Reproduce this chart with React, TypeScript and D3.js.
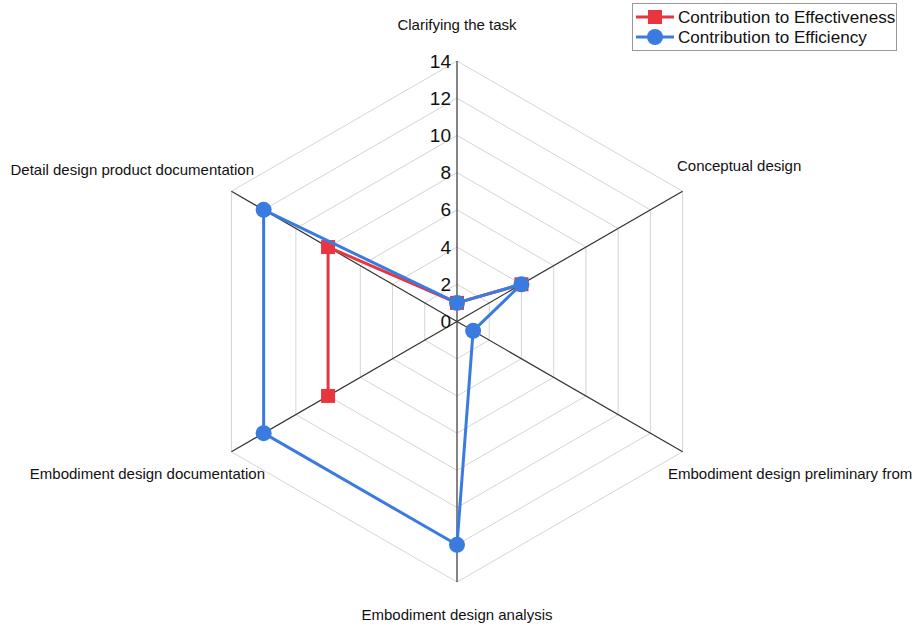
import React from "react";
import * as d3 from "d3";

const categories = [
  "Clarifying the task",
  "Conceptual design",
  "Embodiment design preliminary from",
  "Embodiment design analysis",
  "Embodiment design documentation",
  "Detail design product documentation",
];
const effectiveness: (number | null)[] = [1, 4, null, null, 8, 8];
const efficiency: (number | null)[] = [1, 4, 1, 12, 12, 12];
const ticks = [0, 2, 4, 6, 8, 10, 12, 14];
const seriesNames = ["Contribution to Effectiveness", "Contribution to Efficiency"];

const W = 917, H = 629;
const cx = 457, cy = 321.5, R = 260.5;
const RED = "#e8353f";
const BLUE = "#3b7be0";
const FONT = "Liberation Sans, Arial, sans-serif";

const r = d3.scaleLinear().domain([0, 14]).range([0, R]);
const ang = (i: number) => (i * 2 * Math.PI) / categories.length;
const pt = (i: number, v: number): [number, number] => [
  cx + r(v) * Math.sin(ang(i)),
  cy - r(v) * Math.cos(ang(i)),
];

function segments(vals: (number | null)[]) {
  const segs: [number, number][][] = [];
  const n = vals.length;
  for (let i = 0; i < n; i++) {
    const j = (i + 1) % n;
    if (vals[i] != null && vals[j] != null) {
      segs.push([pt(i, vals[i] as number), pt(j, vals[j] as number)]);
    }
  }
  return segs;
}

const labelPos = [
  { x: 457, y: 30, anchor: "middle" },
  { x: 677, y: 171, anchor: "start" },
  { x: 668, y: 479, anchor: "start" },
  { x: 457, y: 620, anchor: "middle" },
  { x: 265, y: 479, anchor: "end" },
  { x: 254, y: 175, anchor: "end" },
];

export default function App() {
  const line = d3.line();
  const rings = ticks.filter((t) => t > 0);
  return (
    <svg width={W} height={H} style={{ position: "absolute", left: 0, top: 0 }} fontFamily={FONT}>
      <rect width={W} height={H} fill="#fff" />
      {rings.map((t) => (
        <path
          key={t}
          d={(line(categories.map((_, i) => pt(i, t))) as string) + "Z"}
          fill="none"
          stroke="#d4d4d4"
          strokeWidth={1}
        />
      ))}
      {categories.map((_, i) => {
        const [x, y] = pt(i, 14);
        return <line key={i} x1={cx} y1={cy} x2={x} y2={y} stroke="#333" strokeWidth={1.2} />;
      })}
      {ticks.map((t) => (
        <text key={t} x={451} y={cy - r(t) + 6.5} textAnchor="end" fontSize={19} fill="#111">
          {t}
        </text>
      ))}
      {categories.map((c, i) => (
        <text key={c} x={labelPos[i].x} y={labelPos[i].y} textAnchor={labelPos[i].anchor as any} fontSize={15} fill="#111">
          {c}
        </text>
      ))}
      {segments(effectiveness).map((s, k) => (
        <path key={"e" + k} d={line(s) as string} stroke={RED} strokeWidth={3} fill="none" />
      ))}
      {effectiveness.map((v, i) => {
        if (v == null) return null;
        const [x, y] = pt(i, v);
        return <rect key={"er" + i} x={x - 7} y={y - 7} width={14} height={14} fill={RED} />;
      })}
      {segments(efficiency).map((s, k) => (
        <path key={"f" + k} d={line(s) as string} stroke={BLUE} strokeWidth={3} fill="none" />
      ))}
      {efficiency.map((v, i) => {
        if (v == null) return null;
        const [x, y] = pt(i, v);
        return <circle key={"fc" + i} cx={x} cy={y} r={8} fill={BLUE} />;
      })}
      <rect x={632.5} y={3.5} width={264} height={47} fill="#fff" stroke="#999" strokeWidth={1} />
      {seriesNames.map((n, k) => {
        const y = 17 + k * 20;
        const col = k === 0 ? RED : BLUE;
        return (
          <g key={n}>
            <line x1={636} x2={674} y1={y} y2={y} stroke={col} strokeWidth={3} />
            {k === 0 ? (
              <rect x={648} y={y - 7} width={14} height={14} fill={col} />
            ) : (
              <circle cx={655} cy={y} r={8} fill={col} />
            )}
            <text x={678} y={y + 6} fontSize={17.1} fill="#111">
              {n}
            </text>
          </g>
        );
      })}
    </svg>
  );
}
